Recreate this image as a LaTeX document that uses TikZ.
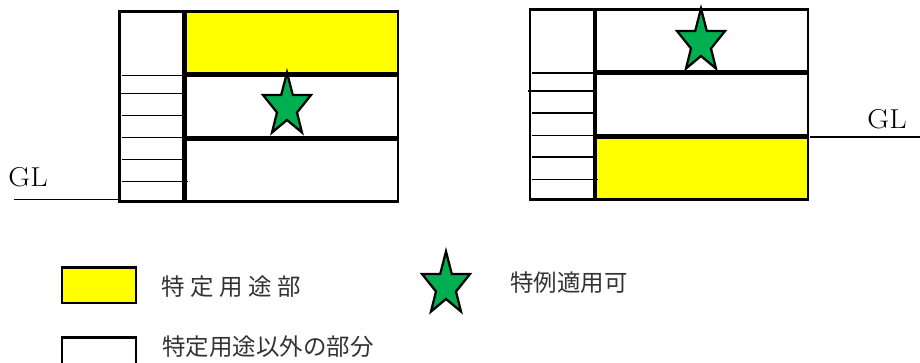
\documentclass[tikz,border=0pt]{standalone}
\usepackage{fontspec}
\newfontfamily\cjk{Noto Sans CJK JP}
\setmainfont{Latin Modern Roman}
\tikzset{
  x=0.75pt,y=-0.75pt,
  frame/.style={draw=black,line width=1.8pt},
  thick wall/.style={draw=black,line width=3.2pt},
  tread/.style={draw=black,line width=0.9pt},
  ground/.style={draw=black,line width=0.9pt},
  glabel/.style={font=\fontsize{20.5}{20.5}\selectfont,inner sep=0pt,anchor=center,xscale=1.1},
  jlabel/.style={font=\cjk\fontsize{17.6}{17.6}\selectfont,inner sep=0pt,anchor=west,text=black!80},
  starshape/.pic={
    \draw[fill=starg,draw=black,line width=1.7pt,miter limit=10]
      (0,3.5) -- (5.8,26) -- (24,26) -- (10,43.5) -- (15,63.5) -- (0,51) -- (-15,63.5) -- (-10,43.5) -- (-24,26) -- (-5.8,26) -- cycle;
  }
}
\definecolor{starg}{HTML}{00B050}
\definecolor{yel}{HTML}{FFFF00}
\begin{document}
\begin{tikzpicture}
\useasboundingbox (0,0) rectangle (920,363);
\fill[white] (0,0) rectangle (920,363);
% left building
\fill[yel] (185,12) rectangle (398,74);
\foreach \y/\a/\b in {75.5/122/184,93.5/118/184,115.5/122/184,137.5/122/184,159.5/122/184,181.5/122/188}
  \draw[tread] (\a,\y) -- (\b,\y);
\draw[frame] (119.5,11.5) rectangle (398,201.5);
\draw[thick wall] (184.5,11.5) -- (184.5,201.5);
\draw[thick wall] (184.5,74.5) -- (398,74.5);
\draw[thick wall] (184.5,138.5) -- (398,138.5);
\pic at (287,69) {starshape};
\coordinate (gl1a) at (14,199.5);
\coordinate (gl1b) at (118,199.5);
\draw[ground] (gl1a) -- (gl1b);
\node[glabel] (gl1) at (28,177) {GL};
% right building
\fill[yel] (595,137) rectangle (808,199);
\foreach \y/\a/\b in {73/532/594,91/528/594,113/532/594,135.5/532/594,157/532/594,179.5/532/598}
  \draw[tread] (\a,\y) -- (\b,\y);
\draw[frame] (530,9.5) rectangle (808,199.5);
\draw[thick wall] (595,9.5) -- (595,199.5);
\draw[thick wall] (595,72.5) -- (808,72.5);
\draw[thick wall] (595,136.5) -- (808,136.5);
\pic at (701,5) {starshape};
\coordinate (gl2a) at (810,137);
\coordinate (gl2b) at (920,137);
\draw[ground] (gl2a) -- (gl2b);
\node[glabel] (gl2) at (887,119) {GL};
% legend
\draw[frame,fill=yel] (62,267.5) rectangle (136,303);
\draw[frame] (62,364) -- (62,337.5) -- (136,337.5) -- (136,364);
\pic at (446,248) {starshape};
\node[jlabel] (t1) at (161,287) {特\hspace{0.24em}定\hspace{0.24em}用\hspace{0.24em}途\hspace{0.24em}部};
\node[jlabel] (t2) at (510,283) {特例適用可};
\node[jlabel] (t3) at (162,347) {特定用途以外の部分};
\end{tikzpicture}
\end{document}
